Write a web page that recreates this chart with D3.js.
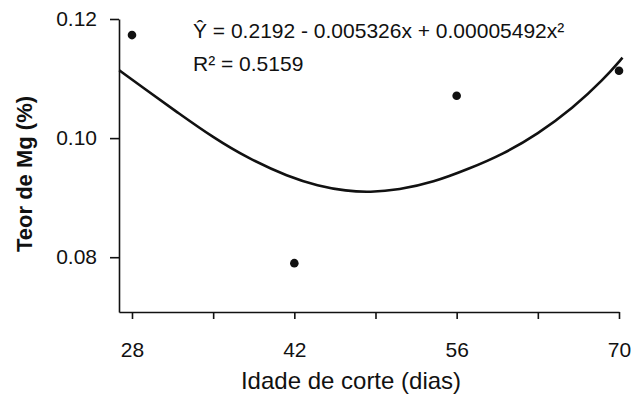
<!DOCTYPE html>
<html>
<head>
<meta charset="utf-8">
<script src="https://cdn.jsdelivr.net/npm/d3@7"></script>
<style>
  body { margin: 0; background: #fff; }
  svg { display: block; font-family: "Liberation Sans", Arial, sans-serif; }
</style>
</head>
<body>
<figure id="chart" style="margin:0"></figure>
<script>
// observed values
const ages = [28, 42, 56, 70];
const mgValues = [0.1173, 0.0790, 0.1071, 0.1113];

// fitted curve
const fitAges = [26.9, 29, 32, 35, 38, 41.5, 44, 46.5, 48.5, 51, 54, 57, 60, 63, 66, 68.7, 70.3];
const fitValues = [0.1114, 0.1084, 0.1042, 0.1001, 0.0966, 0.0935, 0.0920, 0.0911, 0.0909, 0.0913, 0.0926, 0.0948, 0.0973, 0.1007, 0.1050, 0.1099, 0.1135];

const xTicks = [28, 35, 42, 49, 56, 63, 70];
const xTickLabels = [28, 42, 56, 70];
const yTicks = [0.08, 0.10, 0.12];

const equationText = "Ŷ = 0.2192 - 0.005326x + 0.00005492x²";
const r2Text = "R² = 0.5159";

const width = 635, height = 396;
const margin = { top: 19, right: 16, bottom: 84, left: 119 };

const svg = d3.select("figure#chart")
  .append("svg")
  .attr("width", width)
  .attr("height", height);

const x = d3.scaleLinear()
  .domain([26.88, 70])
  .range([margin.left, width - margin.right]);

const y = d3.scaleLinear()
  .domain([0.0708, 0.12])
  .range([height - margin.bottom, margin.top]);

// Axes
const xAxis = svg.append("g")
  .attr("transform", "translate(0," + (height - margin.bottom) + ")")
  .call(d3.axisBottom(x)
    .tickValues(xTicks)
    .tickSize(7)
    .tickSizeOuter(0)
    .tickPadding(23)
    .tickFormat(d => xTickLabels.includes(d) ? d : ""));

const yAxis = svg.append("g")
  .attr("transform", "translate(" + margin.left + ",0)")
  .call(d3.axisLeft(y)
    .tickValues(yTicks)
    .tickSize(9)
    .tickSizeOuter(0)
    .tickPadding(13)
    .tickFormat(d3.format(".2f")));

[xAxis, yAxis].forEach(g => {
  g.select(".domain").attr("stroke", "#111").attr("stroke-width", 1.6);
  g.selectAll(".tick line").attr("stroke", "#111").attr("stroke-width", 1.6);
  g.selectAll(".tick text")
    .attr("fill", "#111")
    .style("font-size", "21px");
});

// Axis titles
svg.append("text")
  .attr("x", 351)
  .attr("y", 389)
  .attr("text-anchor", "middle")
  .style("font-size", "24px")
  .attr("fill", "#111")
  .text("Idade de corte (dias)");

svg.append("text")
  .attr("transform", "translate(32,174)rotate(-90)")
  .attr("text-anchor", "middle")
  .style("font-size", "22px")
  .style("font-weight", "bold")
  .attr("fill", "#111")
  .text("Teor de Mg (%)");

// Fitted curve
const line = d3.line()
  .x(d => x(d))
  .y((d, i) => y(fitValues[i]))
  .curve(d3.curveBasis);

svg.append("path")
  .datum(fitAges)
  .attr("d", line)
  .attr("fill", "none")
  .attr("stroke", "#111")
  .attr("stroke-width", 2.6);

// Points
svg.selectAll(".point")
  .data(ages)
  .enter()
  .append("circle")
  .attr("class", "point")
  .attr("cx", d => x(d))
  .attr("cy", (d, i) => y(mgValues[i]))
  .attr("r", 4.3)
  .attr("fill", "#111");

// Equation
svg.append("text")
  .attr("x", 193)
  .attr("y", 38)
  .style("font-size", "21px")
  .attr("fill", "#111")
  .text(equationText);

svg.append("text")
  .attr("x", 193)
  .attr("y", 71)
  .style("font-size", "21px")
  .attr("fill", "#111")
  .text(r2Text);
</script>
</body>
</html>
